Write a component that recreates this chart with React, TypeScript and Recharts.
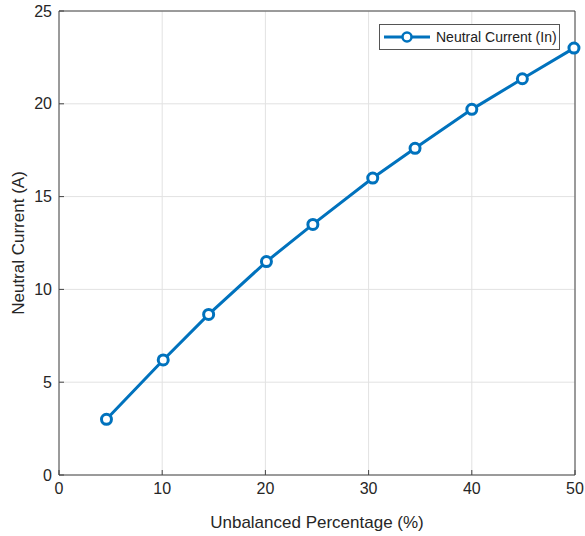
import { LineChart, Line, XAxis, YAxis, CartesianGrid, ReferenceLine } from "recharts";

// Neutral current vs unbalance
const unbalance = [4.6, 10.1, 14.5, 20.1, 24.6, 30.4, 34.5, 40.0, 44.9, 49.9];
const neutralCurrent = [3.0, 6.2, 8.65, 11.5, 13.5, 16.0, 17.6, 19.7, 21.35, 23.0];
const xTicks = [0, 10, 20, 30, 40, 50];
const yTicks = [0, 5, 10, 15, 20, 25];

const data = unbalance.map((u, i) => ({ u, In: neutralCurrent[i] }));

const BLUE = "#0072BD";
const FONT = "'Liberation Sans Narrow', 'Liberation Sans', Arial, sans-serif";

function LegendBox() {
  return (
    <div
      style={{
        position: "absolute",
        left: 379,
        top: 24,
        width: 181,
        height: 26,
        display: "flex",
        alignItems: "center",
        border: "1px solid #555",
        background: "#fff",
        fontFamily: FONT,
        fontSize: 14,
        color: "#222",
        boxSizing: "border-box",
        paddingLeft: 4,
      }}
    >
      <svg width={48} height={14}>
        <line x1={0} y1={7} x2={46} y2={7} stroke={BLUE} strokeWidth={3} />
        <circle cx={23} cy={7} r={4.5} fill="#fff" stroke={BLUE} strokeWidth={2.5} />
      </svg>
      <span style={{ marginLeft: 4 }}>Neutral Current (In)</span>
    </div>
  );
}

export default function App() {
  const tickStyle = { fontSize: 16, fill: "#262626", fontFamily: FONT };
  return (
    <div style={{ position: "absolute", left: 0, top: 0, width: 585, height: 536, background: "#fff" }}>
      <LineChart width={585} height={536} data={data} margin={{ top: 11, right: 10, left: 0, bottom: 0 }}>
        <CartesianGrid xAxisId="b" yAxisId="l" stroke="#e2e2e2" strokeWidth={1} />
        <XAxis
          xAxisId="b"
          dataKey="u"
          type="number"
          domain={[0, 50]}
          ticks={xTicks}
          height={61}
          stroke="#444"
          tickSize={-5}
          tickMargin={13}
          tick={tickStyle}
          label={{ value: "Unbalanced Percentage (%)", position: "insideBottom", offset: 8, style: { fontSize: 17, fill: "#262626", fontFamily: FONT } }}
        />
        <YAxis
          yAxisId="l"
          type="number"
          domain={[0, 25]}
          ticks={yTicks}
          width={59}
          stroke="#444"
          tickSize={-5}
          tickMargin={12}
          tick={tickStyle}
          label={{ value: "Neutral Current (A)", angle: -90, position: "insideLeft", offset: 18, style: { fontSize: 17, fill: "#262626", fontFamily: FONT, textAnchor: "middle" } }}
        />
        {/* box frame on top and right */}
        <ReferenceLine xAxisId="b" yAxisId="l" y={25} stroke="#444" strokeWidth={1} />
        <ReferenceLine xAxisId="b" yAxisId="l" x={50} stroke="#444" strokeWidth={1} />
        <Line
          xAxisId="b"
          yAxisId="l"
          dataKey="In"
          name="Neutral Current (In)"
          stroke={BLUE}
          strokeWidth={3}
          dot={{ r: 5, fill: "#fff", stroke: BLUE, strokeWidth: 3 }}
          isAnimationActive={false}
        />
      </LineChart>
      <LegendBox />
    </div>
  );
}
